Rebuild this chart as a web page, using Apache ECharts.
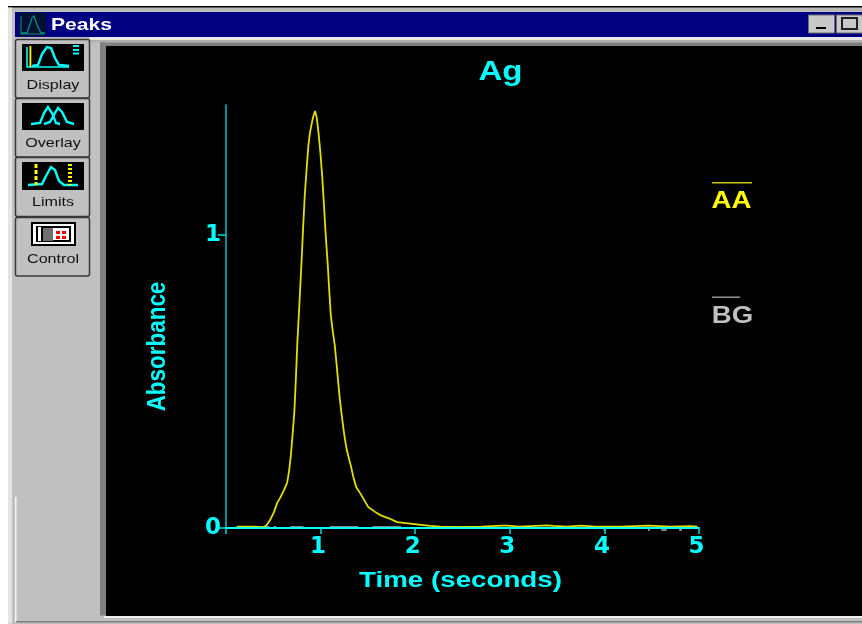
<!DOCTYPE html>
<html>
<head>
<meta charset="utf-8">
<style>html,body{margin:0;padding:0;background:#fff}#c{width:862px;height:624px}</style>
<script src="https://cdn.jsdelivr.net/npm/echarts@6/dist/echarts.min.js"></script>
</head>
<body>
<div id="c"></div>
<script>
const chartTitle = 'Ag';
const windowTitle = 'Peaks';
const xName = 'Time (seconds)';
const yName = 'Absorbance';
const xTicks = [0, 1, 2, 3, 4, 5];
const xTickLabels = [1, 2, 3, 4, 5];
const yTicks = [0, 1];
const buttonLabels = ['Display', 'Overlay', 'Limits', 'Control'];

const aaTimes = [0, 0.10, 0.13, 0.30, 0.392, 0.423, 0.466, 0.508, 0.540, 0.571, 0.614, 0.646, 0.667, 0.685, 0.702, 0.723, 0.738, 0.754, 0.776, 0.797, 0.815, 0.833, 0.854, 0.871, 0.889, 0.907, 0.924, 0.942, 0.960, 0.977, 0.998, 1.019, 1.037, 1.055, 1.076, 1.093, 1.108, 1.129, 1.150, 1.167, 1.185, 1.203, 1.224, 1.241, 1.259, 1.277, 1.298, 1.320, 1.344, 1.376, 1.418, 1.460, 1.503, 1.577, 1.630, 1.714, 1.810, 1.947, 2.159, 2.265, 2.476, 2.70, 2.921, 2.974, 3.10, 3.397, 3.46, 3.60, 3.757, 3.90, 4.169, 4.466, 4.70, 4.91, 4.984];
const aaValues = [0, 0, 0.005, 0.005, 0.003, 0.007, 0.027, 0.055, 0.085, 0.102, 0.130, 0.154, 0.195, 0.246, 0.311, 0.399, 0.505, 0.631, 0.765, 0.898, 1.024, 1.138, 1.234, 1.306, 1.352, 1.382, 1.406, 1.423, 1.399, 1.352, 1.280, 1.191, 1.094, 0.995, 0.896, 0.802, 0.725, 0.671, 0.623, 0.565, 0.502, 0.440, 0.384, 0.340, 0.300, 0.266, 0.239, 0.212, 0.177, 0.140, 0.119, 0.096, 0.072, 0.055, 0.044, 0.034, 0.020, 0.015, 0.007, 0.005, 0.003, 0.005, 0.008, 0.008, 0.005, 0.009, 0.007, 0.005, 0.008, 0.005, 0.005, 0.008, 0.005, 0.006, 0.005];

const bgTimes = [0.12, 0.14, null, 0.22, 0.24, null, 0.43, 0.46, null, 0.50, 0.53, null, 0.68, 0.82, null, 1.10, 1.40, null, 1.55, 1.85, null, 2.25, 2.80, null, 3.99, 4.01, null, 4.46, 4.48, null, 4.60, 4.66, null, 4.79, 4.82];
const bgValues = [0.004, 0.004, null, 0.004, 0.004, null, 0.004, 0.004, null, 0.004, 0.004, null, 0.004, 0.004, null, 0.004, 0.004, null, 0.004, 0.004, null, 0.004, 0.004, null, -0.007, -0.007, null, -0.007, -0.007, null, -0.007, -0.007, null, -0.007, -0.007];

const CYAN = '#00ffff';
const F = '"Liberation Sans", Arial, sans-serif';

function rect(x, y, w, h, fill, z) {
  return { type: 'rect', silent: true, z: z || 0, shape: { x, y, width: w, height: h }, style: { fill } };
}
function rrect(x, y, w, h, fill, stroke, lw, r) {
  return { type: 'rect', silent: true, z: 1, shape: { x, y, width: w, height: h, r: r || 0 }, style: { fill, stroke, lineWidth: lw } };
}
function text(t, x, y, font, fill, sx, sy, rot, z) {
  return { type: 'text', silent: true, z: z || 5, x, y, scaleX: sx || 1, scaleY: sy || 1, rotation: rot || 0,
    style: { text: t, x: 0, y: 0, font, fill, textAlign: 'center', textVerticalAlign: 'middle' } };
}
function poly(points, stroke, lw, z) {
  return { type: 'polyline', silent: true, z: z || 3, shape: { points }, style: { stroke, lineWidth: lw, fill: null } };
}

const gfx = [];
// window frame
gfx.push(rect(8, 6, 854, 618, '#c0c0c0'));
gfx.push(rect(8, 6, 854, 1.5, '#000000', 1));
gfx.push(rect(8, 7.5, 4, 616, '#e4e4e4', 1));
gfx.push(rect(12, 8, 850, 3, '#b8b8b8', 1));
gfx.push(rect(15, 497, 1.6, 125, '#f4f4f4', 1));
gfx.push(rect(16, 621, 846, 1.5, '#808080', 1));
// title bar
gfx.push(rect(15, 12, 847, 25, '#000080', 1));
gfx.push(rect(19, 13, 27, 23, '#001030', 2));
gfx.push(poly([[21, 33], [27, 33], [32, 18], [34, 16], [37, 25], [41, 33], [45, 33]], '#008f8f', 1.3));
gfx.push(poly([[21, 16], [21, 34], [44, 34]], '#008f8f', 1));
gfx.push(text(windowTitle, 81.5, 25, 'bold 17px ' + F, '#ffffff', 1.24));
// window buttons
gfx.push(rrect(808.5, 15, 26, 18, '#c8c8c8', '#707070', 1));
gfx.push(rect(816, 27, 10, 2, '#000000', 3));
gfx.push(rrect(836.5, 15, 30, 18, '#c8c8c8', '#707070', 1));
gfx.push(rrect(842, 18, 15, 11, '#c8c8c8', '#202020', 2));
// inner bevel
gfx.push(rect(90, 37, 772, 3, '#e8e8e8', 1));
gfx.push(rect(90, 40, 772, 2.5, '#b0b0b0', 1));
gfx.push(rect(100, 42.5, 762, 3.5, '#808080', 1));
gfx.push(rect(100, 42.5, 6, 573, '#808080', 1));
gfx.push(rect(106, 46, 756, 570, '#000000', 1));
gfx.push(rect(104, 616, 758, 2, '#f0f0f0', 1));
// toolbar buttons
const btnTops = [39, 98, 157, 217];
const btnLabelOffsets = [46, 45, 45, 42];
btnTops.forEach((top, i) => {
  gfx.push(rrect(15.5, top + 0.5, 74, i === 2 ? 59 : 58.5, '#c0c0c0', '#383838', 1.5, 2));
  gfx.push(text(buttonLabels[i], 53, top + btnLabelOffsets[i], '13px ' + F, '#101010', 1.24));
});
gfx.push(rect(22, 44, 62, 27, '#000000', 2));
gfx.push(rect(22, 103, 62, 27, '#000000', 2));
gfx.push(rect(22, 162, 62, 28, '#000000', 2));
gfx.push(rect(31, 222, 45, 24, '#000000', 2));
gfx.push(rect(33, 224, 41, 20, '#ffffff', 3));
gfx.push(rect(36, 226, 35, 16, '#000000', 3));
gfx.push(rect(43, 228, 10, 13, '#707070', 4));
gfx.push(rect(38, 227, 3, 14, '#ffffff', 4));
gfx.push(rect(53, 228, 16, 12, '#ffffff', 4));
[56, 62].forEach(x => [231, 236].forEach(y => gfx.push(rect(x, y, 4, 3, '#ff0000', 5))));
// display icon
gfx.push(poly([[27, 47], [27, 67], [69, 67]], CYAN, 1.6));
gfx.push(rect(29.5, 46, 1.8, 21, '#ffff00', 4));
gfx.push(poly([[32, 66], [38, 65], [42, 54], [47, 47], [51, 48], [55, 58], [59, 65], [69, 66]], CYAN, 2.4));
gfx.push(rect(73, 45, 6, 2, CYAN, 4));
gfx.push(rect(73, 49, 6, 2, CYAN, 4));
gfx.push(rect(73, 52.5, 6, 2, CYAN, 4));
// overlay icon
gfx.push(poly([[31, 124], [40, 123], [44, 113], [48, 107], [52, 113], [56, 123], [60, 124]], CYAN, 2.4));
gfx.push(poly([[44, 124], [50, 122], [55, 113], [58, 108], [62, 112], [67, 122], [74, 124]], CYAN, 2.4));
// limits icon
gfx.push(poly([[28, 185], [42, 184], [46, 176], [51, 167], [55, 170], [59, 181], [64, 185], [78, 185]], CYAN, 2.4));
gfx.push({ type: 'line', silent: true, z: 4, shape: { x1: 36, y1: 164, x2: 36, y2: 185 }, style: { stroke: '#ffff00', lineWidth: 3, lineDash: [4, 2] } });
gfx.push({ type: 'line', silent: true, z: 4, shape: { x1: 70, y1: 164, x2: 70, y2: 185 }, style: { stroke: '#ffff00', lineWidth: 4, lineDash: [2, 2] } });
// chart texts
gfx.push(text(chartTitle, 500.5, 72.5, 'bold 28px ' + F, CYAN, 1.18));
gfx.push(text(xName, 460.5, 581, 'bold 22px ' + F, CYAN, 1.26));
gfx.push(text(yName, 158, 346.5, 'bold 22px ' + F, CYAN, 1.02, 1.2, Math.PI / 2));
// legend
gfx.push(rect(712, 182, 40, 1.6, '#c8c800', 5));
gfx.push(text('AA', 731.5, 202, 'bold 23px ' + F, '#ffff00', 1.2));
gfx.push(rect(712, 296.5, 28, 1.4, '#a0a0a0', 5));
gfx.push(text('BG', 732.5, 317, 'bold 23px ' + F, '#c0c0c0', 1.2));

const chart = echarts.init(document.getElementById('c'), null, { renderer: 'canvas' });
chart.setOption({
  animation: false,
  backgroundColor: '#ffffff',
  graphic: { elements: gfx },
  grid: { left: 226, right: 163, top: 105, bottom: 96 },
  xAxis: {
    type: 'value', min: 0, max: 5, z: 3,
    splitLine: { show: false },
    axisLine: { lineStyle: { color: CYAN, width: 2 } },
    axisTick: { length: 6, lineStyle: { color: '#00dcdc', width: 1.5 }, customValues: xTicks },
    axisLabel: { color: CYAN, fontFamily: 'DejaVu Sans', fontWeight: 'bold', fontSize: 23, margin: 8, padding: [0, 5, 0, 0], customValues: xTickLabels }
  },
  yAxis: {
    type: 'value', min: 0, max: 1.4437, z: 3,
    splitLine: { show: false },
    axisLine: { onZero: false, lineStyle: { color: '#00c8c8', width: 1.5 } },
    axisTick: { length: 8, lineStyle: { color: '#00dcdc', width: 1.5 }, customValues: yTicks },
    axisLabel: { color: CYAN, fontFamily: 'DejaVu Sans', fontWeight: 'bold', fontSize: 23, margin: 5, padding: [4, 0, 0, 0], customValues: yTicks }
  },
  series: [
    {
      name: 'BG', type: 'line', clip: false, showSymbol: false, connectNulls: false, z: 2,
      lineStyle: { color: '#b0b0b0', width: 1.4 },
      data: bgTimes.map((t, i) => [t, bgValues[i]])
    },
    {
      name: 'AA', type: 'line', showSymbol: false, z: 2,
      lineStyle: { color: '#e0e000', width: 1.8 },
      data: aaTimes.map((t, i) => [t, aaValues[i]])
    }
  ]
});
</script>
</body>
</html>
